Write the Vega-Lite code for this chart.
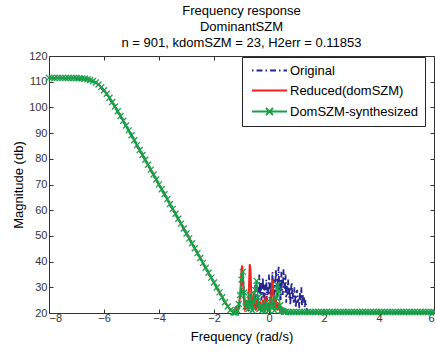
{
"$schema": "https://vega.github.io/schema/vega-lite/v6.json",
"width": 385,
"height": 257,
"autosize": {"type": "none"},
"padding": {"left": 49, "top": 56, "right": 1, "bottom": 38},
"background": "white",
"title": {"text": ["Frequency response", "DominantSZM", "n = 901, kdomSZM = 23, H2err = 0.11853"], "font": "Liberation Sans", "fontSize": 13, "fontWeight": "normal", "color": "#000", "lineHeight": 16, "anchor": "middle", "offset": 0},
"config": {
  "view": {"stroke": "#333", "strokeWidth": 1},
  "axis": {"labelFont": "Liberation Sans", "labelFontSize": 11, "labelColor": "#333", "titleFont": "Liberation Sans", "titleFontSize": 13, "titleFontWeight": "normal", "titleColor": "#000", "grid": false, "domain": false, "tickColor": "#333", "tickSize": -4}
},
"datasets": {
  "orig": [
    {"freq": -8.0, "mag": 111.2}, {"freq": -7.8, "mag": 111.2}, {"freq": -7.6, "mag": 111.2}, {"freq": -7.4, "mag": 111.2}, {"freq": -7.2, "mag": 111.15}, {"freq": -7.0, "mag": 111.1}, {"freq": -6.8, "mag": 111.0}, {"freq": -6.6, "mag": 110.7}, {"freq": -6.4, "mag": 110.0}, {"freq": -6.2, "mag": 108.6}, {"freq": -6.0, "mag": 106.4}, {"freq": -5.8, "mag": 103.4}, {"freq": -5.6, "mag": 100.0}, {"freq": -5.4, "mag": 96.4}, {"freq": -5.2, "mag": 92.6}, {"freq": -5.0, "mag": 88.9}, {"freq": -4.8, "mag": 85.0}, {"freq": -4.6, "mag": 81.2}, {"freq": -4.4, "mag": 77.4}, {"freq": -4.2, "mag": 73.6}, {"freq": -4.0, "mag": 69.8}, {"freq": -3.8, "mag": 66.0}, {"freq": -3.6, "mag": 62.1}, {"freq": -3.4, "mag": 58.3}, {"freq": -3.2, "mag": 54.5}, {"freq": -3.0, "mag": 50.7}, {"freq": -2.8, "mag": 46.9}, {"freq": -2.6, "mag": 43.0}, {"freq": -2.4, "mag": 39.2}, {"freq": -2.2, "mag": 35.4}, {"freq": -2.0, "mag": 31.6}, {"freq": -1.8, "mag": 27.8}, {"freq": -1.6, "mag": 24.0}, {"freq": -1.4, "mag": 21.0},
    {"freq": -1.3, "mag": 20.4}, {"freq": -1.25, "mag": 20.3}, {"freq": -1.2, "mag": 21.0}, {"freq": -1.15, "mag": 20.8}, {"freq": -1.1, "mag": 22.0}, {"freq": -1.05, "mag": 25.0}, {"freq": -1.0, "mag": 30.0}, {"freq": -0.95, "mag": 33.0}, {"freq": -0.9, "mag": 26.0}, {"freq": -0.85, "mag": 22.0}, {"freq": -0.8, "mag": 23.0}, {"freq": -0.75, "mag": 21.5}, {"freq": -0.7, "mag": 24.0}, {"freq": -0.65, "mag": 26.0}, {"freq": -0.6, "mag": 22.0},
    {"freq": -0.575, "mag": 23}, {"freq": -0.55, "mag": 27}, {"freq": -0.525, "mag": 24}, {"freq": -0.5, "mag": 31}, {"freq": -0.475, "mag": 26}, {"freq": -0.45, "mag": 33}, {"freq": -0.425, "mag": 28}, {"freq": -0.4, "mag": 24}, {"freq": -0.375, "mag": 30}, {"freq": -0.35, "mag": 35}, {"freq": -0.325, "mag": 27}, {"freq": -0.3, "mag": 32}, {"freq": -0.275, "mag": 25}, {"freq": -0.25, "mag": 29}, {"freq": -0.225, "mag": 34}, {"freq": -0.2, "mag": 26}, {"freq": -0.175, "mag": 31}, {"freq": -0.15, "mag": 23}, {"freq": -0.125, "mag": 28}, {"freq": -0.1, "mag": 33}, {"freq": -0.075, "mag": 25}, {"freq": -0.05, "mag": 30}, {"freq": -0.025, "mag": 27}, {"freq": 0.0, "mag": 35}, {"freq": 0.025, "mag": 29}, {"freq": 0.05, "mag": 24}, {"freq": 0.075, "mag": 32}, {"freq": 0.1, "mag": 27}, {"freq": 0.125, "mag": 36}, {"freq": 0.15, "mag": 30}, {"freq": 0.175, "mag": 25}, {"freq": 0.2, "mag": 33}, {"freq": 0.225, "mag": 28}, {"freq": 0.25, "mag": 37}, {"freq": 0.275, "mag": 31}, {"freq": 0.3, "mag": 26}, {"freq": 0.325, "mag": 34}, {"freq": 0.35, "mag": 38}, {"freq": 0.375, "mag": 29}, {"freq": 0.4, "mag": 33}, {"freq": 0.425, "mag": 25}, {"freq": 0.45, "mag": 36}, {"freq": 0.475, "mag": 30}, {"freq": 0.5, "mag": 27}, {"freq": 0.525, "mag": 37}, {"freq": 0.55, "mag": 32}, {"freq": 0.575, "mag": 28}, {"freq": 0.6, "mag": 35}, {"freq": 0.625, "mag": 24}, {"freq": 0.65, "mag": 31}, {"freq": 0.675, "mag": 27}, {"freq": 0.7, "mag": 33}, {"freq": 0.725, "mag": 26}, {"freq": 0.75, "mag": 30}, {"freq": 0.775, "mag": 23}, {"freq": 0.8, "mag": 29}, {"freq": 0.825, "mag": 32}, {"freq": 0.85, "mag": 25}, {"freq": 0.875, "mag": 28}, {"freq": 0.9, "mag": 24}, {"freq": 0.925, "mag": 30}, {"freq": 0.95, "mag": 26}, {"freq": 0.975, "mag": 22}, {"freq": 1.0, "mag": 27}, {"freq": 1.025, "mag": 29}, {"freq": 1.05, "mag": 24}, {"freq": 1.075, "mag": 26}, {"freq": 1.1, "mag": 22}, {"freq": 1.125, "mag": 28}, {"freq": 1.15, "mag": 25}, {"freq": 1.175, "mag": 30}, {"freq": 1.2, "mag": 23}, {"freq": 1.225, "mag": 27}, {"freq": 1.25, "mag": 24}, {"freq": 1.275, "mag": 26}, {"freq": 1.3, "mag": 22}, {"freq": 1.325, "mag": 25}, {"freq": 1.35, "mag": 23}, {"freq": 1.375, "mag": 21}, {"freq": 1.4, "mag": 20.5},
    {"freq": 1.6, "mag": 20.3}, {"freq": 2.0, "mag": 20.3}, {"freq": 2.4, "mag": 20.3}, {"freq": 2.8, "mag": 20.3}, {"freq": 3.2, "mag": 20.3}, {"freq": 3.6, "mag": 20.3}, {"freq": 4.0, "mag": 20.3}, {"freq": 4.4, "mag": 20.3}, {"freq": 4.8, "mag": 20.3}, {"freq": 5.2, "mag": 20.3}, {"freq": 5.6, "mag": 20.3}, {"freq": 6.0, "mag": 20.3}
  ],
  "red": [
    {"freq": -8.0, "mag": 111.5}, {"freq": -7.8, "mag": 111.5}, {"freq": -7.6, "mag": 111.5}, {"freq": -7.4, "mag": 111.48}, {"freq": -7.2, "mag": 111.45}, {"freq": -7.0, "mag": 111.41}, {"freq": -6.8, "mag": 111.28}, {"freq": -6.6, "mag": 110.96}, {"freq": -6.4, "mag": 110.26}, {"freq": -6.2, "mag": 108.9}, {"freq": -6.0, "mag": 106.69}, {"freq": -5.8, "mag": 103.74}, {"freq": -5.6, "mag": 100.32}, {"freq": -5.4, "mag": 96.67}, {"freq": -5.2, "mag": 92.93}, {"freq": -5.0, "mag": 89.15}, {"freq": -4.8, "mag": 85.33}, {"freq": -4.6, "mag": 81.51}, {"freq": -4.4, "mag": 77.69}, {"freq": -4.2, "mag": 73.87}, {"freq": -4.0, "mag": 70.05}, {"freq": -3.8, "mag": 66.23}, {"freq": -3.6, "mag": 62.41}, {"freq": -3.4, "mag": 58.59}, {"freq": -3.2, "mag": 54.77}, {"freq": -3.0, "mag": 50.95}, {"freq": -2.8, "mag": 47.13}, {"freq": -2.6, "mag": 43.31}, {"freq": -2.4, "mag": 39.49}, {"freq": -2.2, "mag": 35.67}, {"freq": -2.0, "mag": 31.85}, {"freq": -1.8, "mag": 28.03}, {"freq": -1.6, "mag": 24.21}, {"freq": -1.4, "mag": 21.2},
    {"freq": -1.3, "mag": 20.4}, {"freq": -1.275, "mag": 20.2}, {"freq": -1.25, "mag": 20.6}, {"freq": -1.225, "mag": 21.5}, {"freq": -1.2, "mag": 22.5}, {"freq": -1.175, "mag": 21.3}, {"freq": -1.15, "mag": 20.4}, {"freq": -1.125, "mag": 21.0}, {"freq": -1.1, "mag": 22.8}, {"freq": -1.075, "mag": 24.5}, {"freq": -1.05, "mag": 27.0}, {"freq": -1.025, "mag": 31.5}, {"freq": -1.0, "mag": 36.5}, {"freq": -0.975, "mag": 38.5}, {"freq": -0.95, "mag": 35.0}, {"freq": -0.925, "mag": 28.0}, {"freq": -0.9, "mag": 23.5}, {"freq": -0.875, "mag": 21.5}, {"freq": -0.85, "mag": 22.0}, {"freq": -0.825, "mag": 25.0}, {"freq": -0.8, "mag": 23.0}, {"freq": -0.775, "mag": 21.0}, {"freq": -0.75, "mag": 24.0}, {"freq": -0.725, "mag": 31.0}, {"freq": -0.7, "mag": 39.0}, {"freq": -0.675, "mag": 37.0}, {"freq": -0.65, "mag": 29.0}, {"freq": -0.625, "mag": 23.5}, {"freq": -0.6, "mag": 21.0}, {"freq": -0.575, "mag": 23.0}, {"freq": -0.55, "mag": 28.0}, {"freq": -0.525, "mag": 26.0}, {"freq": -0.5, "mag": 22.0}, {"freq": -0.475, "mag": 21.0}, {"freq": -0.45, "mag": 23.5}, {"freq": -0.425, "mag": 25.5}, {"freq": -0.4, "mag": 22.5}, {"freq": -0.375, "mag": 21.0}, {"freq": -0.35, "mag": 22.0}, {"freq": -0.325, "mag": 24.5}, {"freq": -0.3, "mag": 22.0}, {"freq": -0.275, "mag": 20.8}, {"freq": -0.25, "mag": 22.0}, {"freq": -0.225, "mag": 25.0}, {"freq": -0.2, "mag": 23.0}, {"freq": -0.175, "mag": 21.0}, {"freq": -0.15, "mag": 22.5}, {"freq": -0.125, "mag": 26.5}, {"freq": -0.1, "mag": 25.0}, {"freq": -0.075, "mag": 22.0}, {"freq": -0.05, "mag": 21.0}, {"freq": -0.025, "mag": 22.0}, {"freq": 0.0, "mag": 24.0}, {"freq": 0.025, "mag": 22.0}, {"freq": 0.05, "mag": 21.5}, {"freq": 0.075, "mag": 25.0}, {"freq": 0.1, "mag": 30.0}, {"freq": 0.125, "mag": 33.0}, {"freq": 0.15, "mag": 29.0}, {"freq": 0.175, "mag": 24.0}, {"freq": 0.2, "mag": 21.5}, {"freq": 0.225, "mag": 23.0}, {"freq": 0.25, "mag": 25.5}, {"freq": 0.275, "mag": 23.0}, {"freq": 0.3, "mag": 21.0}, {"freq": 0.325, "mag": 22.0}, {"freq": 0.35, "mag": 24.0}, {"freq": 0.375, "mag": 22.0}, {"freq": 0.4, "mag": 20.8}, {"freq": 0.425, "mag": 21.5}, {"freq": 0.45, "mag": 22.5}, {"freq": 0.475, "mag": 21.0}, {"freq": 0.5, "mag": 20.6}, {"freq": 0.525, "mag": 21.2}, {"freq": 0.55, "mag": 20.5}, {"freq": 0.575, "mag": 20.4}, {"freq": 0.6, "mag": 20.3},
    {"freq": 0.8, "mag": 20.3}, {"freq": 1.2, "mag": 20.3}, {"freq": 1.6, "mag": 20.3}, {"freq": 2.0, "mag": 20.3}, {"freq": 2.4, "mag": 20.3}, {"freq": 2.8, "mag": 20.3}, {"freq": 3.2, "mag": 20.3}, {"freq": 3.6, "mag": 20.3}, {"freq": 4.0, "mag": 20.3}, {"freq": 4.4, "mag": 20.3}, {"freq": 4.8, "mag": 20.3}, {"freq": 5.2, "mag": 20.3}, {"freq": 5.6, "mag": 20.3}, {"freq": 6.0, "mag": 20.3}
  ],
  "syn": [
    {"freq": -8.0, "mag": 111.5}, {"freq": -7.9, "mag": 111.5}, {"freq": -7.8, "mag": 111.5}, {"freq": -7.7, "mag": 111.5}, {"freq": -7.6, "mag": 111.5}, {"freq": -7.5, "mag": 111.49}, {"freq": -7.4, "mag": 111.48}, {"freq": -7.3, "mag": 111.47}, {"freq": -7.2, "mag": 111.45}, {"freq": -7.1, "mag": 111.43}, {"freq": -7.0, "mag": 111.41}, {"freq": -6.9, "mag": 111.36}, {"freq": -6.8, "mag": 111.28}, {"freq": -6.7, "mag": 111.15}, {"freq": -6.6, "mag": 110.96}, {"freq": -6.5, "mag": 110.68}, {"freq": -6.4, "mag": 110.26}, {"freq": -6.3, "mag": 109.68}, {"freq": -6.2, "mag": 108.9}, {"freq": -6.1, "mag": 107.9}, {"freq": -6.0, "mag": 106.69}, {"freq": -5.9, "mag": 105.29}, {"freq": -5.8, "mag": 103.74}, {"freq": -5.7, "mag": 102.07}, {"freq": -5.6, "mag": 100.32}, {"freq": -5.5, "mag": 98.51}, {"freq": -5.4, "mag": 96.67}, {"freq": -5.3, "mag": 94.81}, {"freq": -5.2, "mag": 92.93}, {"freq": -5.1, "mag": 91.06}, {"freq": -5.0, "mag": 89.15}, {"freq": -4.9, "mag": 87.24}, {"freq": -4.8, "mag": 85.33}, {"freq": -4.7, "mag": 83.42}, {"freq": -4.6, "mag": 81.51}, {"freq": -4.5, "mag": 79.6}, {"freq": -4.4, "mag": 77.69}, {"freq": -4.3, "mag": 75.78}, {"freq": -4.2, "mag": 73.87}, {"freq": -4.1, "mag": 71.96}, {"freq": -4.0, "mag": 70.05}, {"freq": -3.9, "mag": 68.14}, {"freq": -3.8, "mag": 66.23}, {"freq": -3.7, "mag": 64.32}, {"freq": -3.6, "mag": 62.41}, {"freq": -3.5, "mag": 60.5}, {"freq": -3.4, "mag": 58.59}, {"freq": -3.3, "mag": 56.68}, {"freq": -3.2, "mag": 54.77}, {"freq": -3.1, "mag": 52.86}, {"freq": -3.0, "mag": 50.95}, {"freq": -2.9, "mag": 49.04}, {"freq": -2.8, "mag": 47.13}, {"freq": -2.7, "mag": 45.22}, {"freq": -2.6, "mag": 43.31}, {"freq": -2.5, "mag": 41.4}, {"freq": -2.4, "mag": 39.49}, {"freq": -2.3, "mag": 37.58}, {"freq": -2.2, "mag": 35.67}, {"freq": -2.1, "mag": 33.76}, {"freq": -2.0, "mag": 31.85}, {"freq": -1.9, "mag": 29.94}, {"freq": -1.8, "mag": 28.03}, {"freq": -1.7, "mag": 26.12}, {"freq": -1.6, "mag": 24.21}, {"freq": -1.5, "mag": 22.5}, {"freq": -1.4, "mag": 21.2}, {"freq": -1.3, "mag": 20.3},
    {"freq": -1.25, "mag": 20.1}, {"freq": -1.2, "mag": 20.3}, {"freq": -1.15, "mag": 21.0}, {"freq": -1.1, "mag": 23.5}, {"freq": -1.05, "mag": 27.0}, {"freq": -1.0, "mag": 33.0}, {"freq": -0.95, "mag": 36.0}, {"freq": -0.9, "mag": 28.0}, {"freq": -0.85, "mag": 22.5}, {"freq": -0.8, "mag": 24.5}, {"freq": -0.75, "mag": 21.5}, {"freq": -0.7, "mag": 27.0}, {"freq": -0.65, "mag": 23.0}, {"freq": -0.6, "mag": 21.0}, {"freq": -0.55, "mag": 24.5}, {"freq": -0.5, "mag": 29.0}, {"freq": -0.45, "mag": 32.5}, {"freq": -0.4, "mag": 26.0}, {"freq": -0.35, "mag": 21.5}, {"freq": -0.3, "mag": 23.0}, {"freq": -0.25, "mag": 21.0}, {"freq": -0.2, "mag": 22.5}, {"freq": -0.15, "mag": 20.8}, {"freq": -0.1, "mag": 24.0}, {"freq": -0.05, "mag": 22.0}, {"freq": 0.0, "mag": 21.0}, {"freq": 0.05, "mag": 22.5}, {"freq": 0.1, "mag": 25.0}, {"freq": 0.15, "mag": 22.5}, {"freq": 0.2, "mag": 21.0}, {"freq": 0.25, "mag": 26.0}, {"freq": 0.3, "mag": 31.0}, {"freq": 0.35, "mag": 28.5}, {"freq": 0.4, "mag": 23.0}, {"freq": 0.45, "mag": 21.0}, {"freq": 0.5, "mag": 20.8}, {"freq": 0.55, "mag": 20.5}, {"freq": 0.6, "mag": 20.4},
    {"freq": 0.7, "mag": 20.4}, {"freq": 0.8, "mag": 20.4}, {"freq": 0.9, "mag": 20.4}, {"freq": 1.0, "mag": 20.4}, {"freq": 1.1, "mag": 20.4}, {"freq": 1.2, "mag": 20.4}, {"freq": 1.3, "mag": 20.4}, {"freq": 1.4, "mag": 20.4}, {"freq": 1.5, "mag": 20.4}, {"freq": 1.6, "mag": 20.4}, {"freq": 1.7, "mag": 20.4}, {"freq": 1.8, "mag": 20.4}, {"freq": 1.9, "mag": 20.4}, {"freq": 2.0, "mag": 20.4}, {"freq": 2.1, "mag": 20.4}, {"freq": 2.2, "mag": 20.4}, {"freq": 2.3, "mag": 20.4}, {"freq": 2.4, "mag": 20.4}, {"freq": 2.5, "mag": 20.4}, {"freq": 2.6, "mag": 20.4}, {"freq": 2.7, "mag": 20.4}, {"freq": 2.8, "mag": 20.4}, {"freq": 2.9, "mag": 20.4}, {"freq": 3.0, "mag": 20.4}, {"freq": 3.1, "mag": 20.4}, {"freq": 3.2, "mag": 20.4}, {"freq": 3.3, "mag": 20.4}, {"freq": 3.4, "mag": 20.4}, {"freq": 3.5, "mag": 20.4}, {"freq": 3.6, "mag": 20.4}, {"freq": 3.7, "mag": 20.4}, {"freq": 3.8, "mag": 20.4}, {"freq": 3.9, "mag": 20.4}, {"freq": 4.0, "mag": 20.4}, {"freq": 4.1, "mag": 20.4}, {"freq": 4.2, "mag": 20.4}, {"freq": 4.3, "mag": 20.4}, {"freq": 4.4, "mag": 20.4}, {"freq": 4.5, "mag": 20.4}, {"freq": 4.6, "mag": 20.4}, {"freq": 4.7, "mag": 20.4}, {"freq": 4.8, "mag": 20.4}, {"freq": 4.9, "mag": 20.4}, {"freq": 5.0, "mag": 20.4}, {"freq": 5.1, "mag": 20.4}, {"freq": 5.2, "mag": 20.4}, {"freq": 5.3, "mag": 20.4}, {"freq": 5.4, "mag": 20.4}, {"freq": 5.5, "mag": 20.4}, {"freq": 5.6, "mag": 20.4}, {"freq": 5.7, "mag": 20.4}, {"freq": 5.8, "mag": 20.4}, {"freq": 5.9, "mag": 20.4}, {"freq": 6.0, "mag": 20.4}
  ]
},
"layer": [
  {
    "data": {"name": "orig"},
    "mark": {"type": "line", "strokeWidth": 1.8, "strokeDash": [6, 3, 1.5, 3]},
    "encoding": {
      "x": {"field": "freq", "type": "quantitative", "scale": {"domain": [-8, 6], "nice": false, "zero": false}, "axis": {"orient": "bottom", "values": [-8, -6, -4, -2, 0, 2, 4, 6], "title": "Frequency (rad/s)", "labelPadding": 3, "titlePadding": 7}},
      "y": {"field": "mag", "type": "quantitative", "scale": {"domain": [20, 120], "nice": false, "zero": false}, "axis": {"orient": "left", "values": [20, 30, 40, 50, 60, 70, 80, 90, 100, 110, 120], "title": "Magnitude (db)", "labelPadding": 6, "titlePadding": 3}},
      "color": {
        "datum": "Original",
        "scale": {"domain": ["Original", "Reduced(domSZM)", "DomSZM-synthesized"], "range": ["#26268f", "#f41f1f", "#16a24a"]},
        "legend": {
          "title": null, "orient": "none", "legendX": 193, "legendY": 1, "padding": 7, "fillColor": "white", "strokeColor": "#222",
          "labelFont": "Liberation Sans", "labelFontSize": 13, "labelColor": "#000", "labelLimit": 300,
          "symbolSize": 49, "symbolOffset": 14, "labelOffset": 14, "rowPadding": 6,
          "encode": {"symbols": {"update": {
            "shape": {"signal": "datum.value === 'DomSZM-synthesized' ? 'M-5,0H5M-1,-1L1,1M1,-1L-1,1' : 'M-5,0H5'"},
            "strokeDash": {"signal": "datum.value === 'Original' ? [1.5, 3, 6, 3] : []"},
            "fill": {"value": "transparent"},
            "strokeWidth": {"value": 1.8}
          }}}
        }
      }
    }
  },
  {
    "data": {"name": "red"},
    "mark": {"type": "line", "strokeWidth": 2},
    "encoding": {
      "x": {"field": "freq", "type": "quantitative", "axis": {"orient": "top", "values": [-8, -6, -4, -2, 0, 2, 4, 6], "labels": false, "title": null}},
      "y": {"field": "mag", "type": "quantitative", "axis": {"orient": "right", "values": [20, 30, 40, 50, 60, 70, 80, 90, 100, 110, 120], "labels": false, "title": null}},
      "color": {"datum": "Reduced(domSZM)"}
    }
  },
  {
    "data": {"name": "syn"},
    "mark": {"type": "line", "strokeWidth": 1.4},
    "encoding": {
      "x": {"field": "freq", "type": "quantitative", "axis": null},
      "y": {"field": "mag", "type": "quantitative", "axis": null},
      "color": {"datum": "DomSZM-synthesized"}
    }
  },
  {
    "data": {"name": "syn"},
    "mark": {"type": "point", "shape": "M-1,-1L1,1M1,-1L-1,1", "filled": false, "size": 36, "strokeWidth": 1.3, "opacity": 1},
    "encoding": {
      "x": {"field": "freq", "type": "quantitative", "axis": null},
      "y": {"field": "mag", "type": "quantitative", "axis": null},
      "color": {"datum": "DomSZM-synthesized"}
    }
  }
],
"resolve": {"axis": {"x": "independent", "y": "independent"}}
}
